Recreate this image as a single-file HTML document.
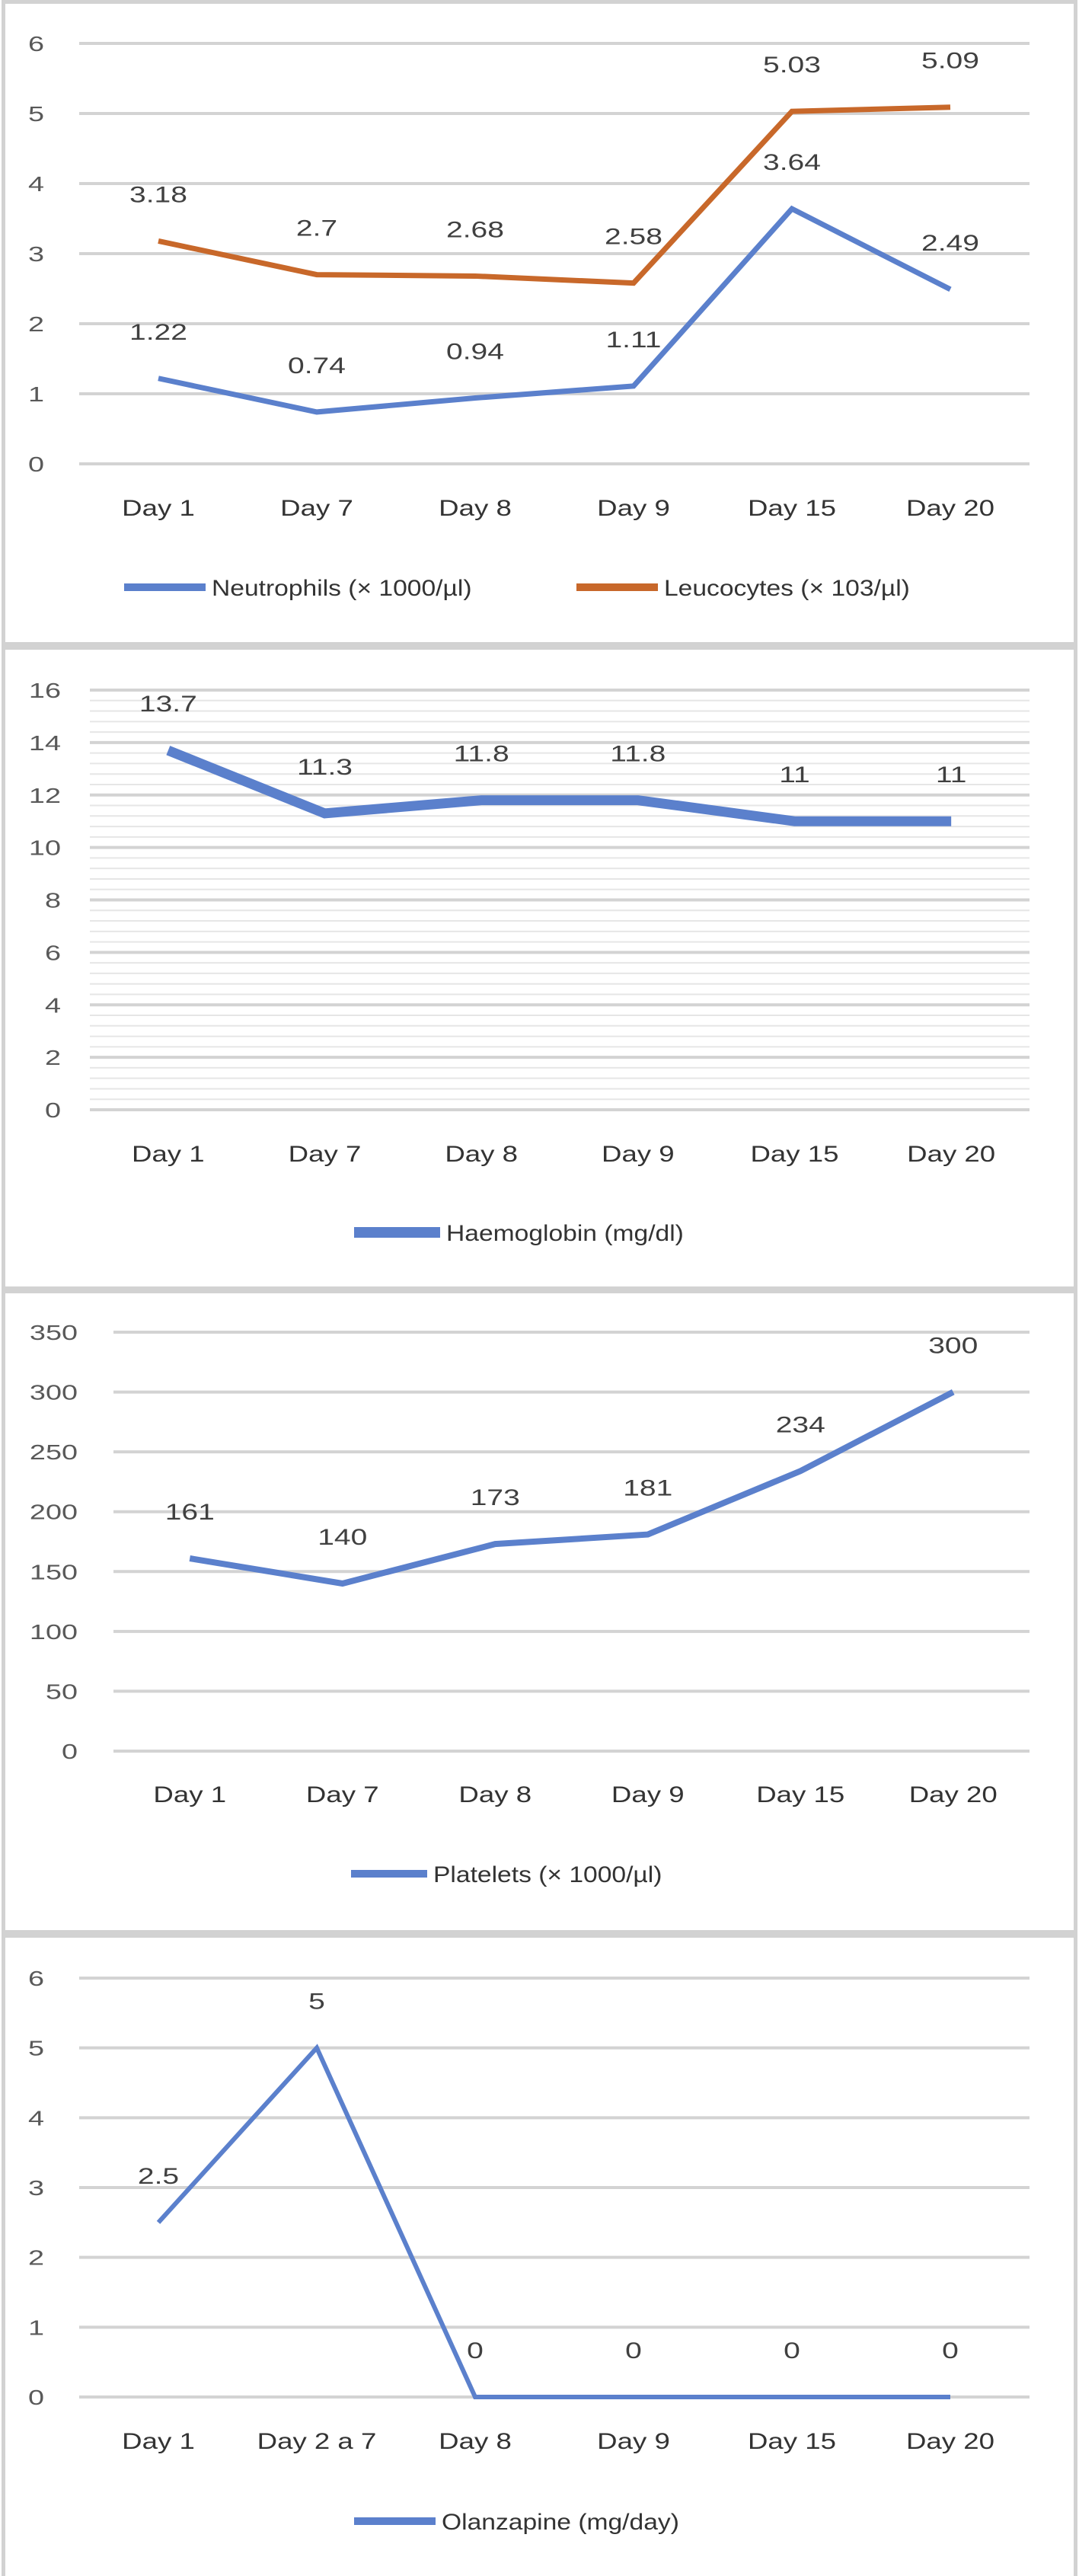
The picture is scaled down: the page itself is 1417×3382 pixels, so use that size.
<!DOCTYPE html>
<html><head><meta charset="utf-8">
<style>
html,body{margin:0;padding:0;background:#fff;}
svg{display:block;}
text{font-family:"Liberation Sans",Arial,sans-serif;}
</style></head>
<body>
<svg id="root" width="1417" height="3382" viewBox="0 0 1417 3382" xmlns="http://www.w3.org/2000/svg">
<rect x="0" y="0" width="1417" height="3382" fill="#fff"/>
<g id="frame">
<rect x="2" y="0" width="5" height="3382" fill="#d2d2d2"/>
<rect x="1410" y="0" width="5" height="3382" fill="#d2d2d2"/>
<rect x="2" y="0" width="1413" height="5" fill="#d2d2d2"/>
<rect x="2" y="843" width="1413" height="10" fill="#d2d2d2"/>
<rect x="2" y="1689" width="1413" height="9" fill="#d2d2d2"/>
<rect x="2" y="2534" width="1413" height="10" fill="#d2d2d2"/>
</g>
</svg>
<script>
// Chart 1 data
const cats1 = ["Day 1","Day 7","Day 8","Day 9","Day 15","Day 20"];
const neutrophils = [1.22,0.74,0.94,1.11,3.64,2.49];
const leucocytes = [3.18,2.7,2.68,2.58,5.03,5.09];
const ticks1 = [0,1,2,3,4,5,6];
// Chart 2 data
const cats2 = ["Day 1","Day 7","Day 8","Day 9","Day 15","Day 20"];
const haemoglobin = [13.7,11.3,11.8,11.8,11,11];
const ticks2 = [0,2,4,6,8,10,12,14,16];
// Chart 3 data
const cats3 = ["Day 1","Day 7","Day 8","Day 9","Day 15","Day 20"];
const platelets = [161,140,173,181,234,300];
const ticks3 = [0,50,100,150,200,250,300,350];
// Chart 4 data
const cats4 = ["Day 1","Day 2 a 7","Day 8","Day 9","Day 15","Day 20"];
const olanzapine = [2.5,5,0,0,0,0];
const ticks4 = [0,1,2,3,4,5,6];

const NS="http://www.w3.org/2000/svg";
const root=document.getElementById('root');
function mk(tag,attrs,parent){const e=document.createElementNS(NS,tag);for(const k in attrs)e.setAttribute(k,attrs[k]);(parent||root).appendChild(e);return e;}
function stretch(el,f){const w=el.getComputedTextLength();if(w>0){el.setAttribute('textLength',w*f);el.setAttribute('lengthAdjust','spacingAndGlyphs');}}

function chart(cfg){
  const g=mk('g',{});
  
  
  const max=cfg.ticks[cfg.ticks.length-1];
  const y=v=>cfg.y0-(v/max)*(cfg.y0-cfg.yTop);
  const n=cfg.cats.length, bw=(cfg.right-cfg.left)/n;
  const x=i=>cfg.left+bw*(i+0.5);
  if(cfg.minor){
    for(let v=0;v<max;v+=cfg.minor){
      const ln=mk('line',{x1:cfg.left,x2:cfg.right,y1:y(v),y2:y(v),stroke:'#e6e6e6','stroke-width':2},g);
      
      
    }
  }
  cfg.ticks.forEach(t=>{
    const ln=mk('line',{x1:cfg.left,x2:cfg.right,y1:y(t),y2:y(t),stroke:'#d3d3d3','stroke-width':4},g);
    
    
    const tx=mk('text',{x:cfg.tickX,y:y(t)+10,'text-anchor':'end','font-size':28,fill:'#595959'},g);
    tx.textContent=t;
    
    
    stretch(tx,1.35);
  });
  cfg.cats.forEach((c,i)=>{
    const tx=mk('text',{x:x(i),y:cfg.catY+11,'text-anchor':'middle','font-size':30,fill:'#333'},g);
    tx.textContent=c;
    
    
    stretch(tx,1.22);
  });
  cfg.series.forEach(s=>{
    const pts=s.values.map((v,i)=>x(i)+','+y(v)).join(' ');
    const pl=mk('polyline',{points:pts,fill:'none',stroke:s.color,'stroke-width':s.w,'stroke-linejoin':'miter'},g);
    
    
    s.values.forEach((v,i)=>{
      const tx=mk('text',{x:x(i),y:y(v)-62+11,'text-anchor':'middle','font-size':30,fill:'#404040'},g);
      tx.textContent=v;
      
      
      stretch(tx,1.3);
    });
    const lg=mk('line',{x1:s.lx1,x2:s.lx2,y1:cfg.legY,y2:cfg.legY,stroke:s.color,'stroke-width':s.lw||10},g);
    
    
    const lt=mk('text',{x:s.lx2+8,y:cfg.legY+11,'font-size':30,fill:'#333'},g);
    lt.textContent=s.label;
    
    
    stretch(lt,1.12);
  });
}
const BLUE='#5b80cc', ORANGE='#c8682a';
chart({name:'neutrophils-leucocytes-chart',cats:cats1,ticks:ticks1,y0:609,yTop:57,left:104,right:1352,tickX:58,catY:666,legY:771,
  series:[{key:'neutrophils',values:neutrophils,color:BLUE,w:7,label:'Neutrophils (× 1000/µl)',lx1:163,lx2:270},
          {key:'leucocytes',values:leucocytes,color:ORANGE,w:7,label:'Leucocytes (× 103/µl)',lx1:757,lx2:864}]});
chart({name:'haemoglobin-chart',cats:cats2,ticks:ticks2,y0:1457,yTop:906,left:118,right:1352,tickX:80,catY:1514,legY:1618,minor:0.4,
  series:[{key:'haemoglobin',values:haemoglobin,color:BLUE,w:13,lw:14,label:'Haemoglobin (mg/dl)',lx1:465,lx2:578}]});
chart({name:'platelets-chart',cats:cats3,ticks:ticks3,y0:2299,yTop:1749,left:149,right:1352,tickX:102,catY:2355,legY:2460,
  series:[{key:'platelets',values:platelets,color:BLUE,w:8,label:'Platelets (× 1000/µl)',lx1:461,lx2:561}]});
chart({name:'olanzapine-chart',cats:cats4,ticks:ticks4,y0:3147,yTop:2597,left:104,right:1352,tickX:58,catY:3204,legY:3310,
  series:[{key:'olanzapine',values:olanzapine,color:BLUE,w:6,label:'Olanzapine (mg/day)',lx1:465,lx2:572}]});
</script>
</body></html>
